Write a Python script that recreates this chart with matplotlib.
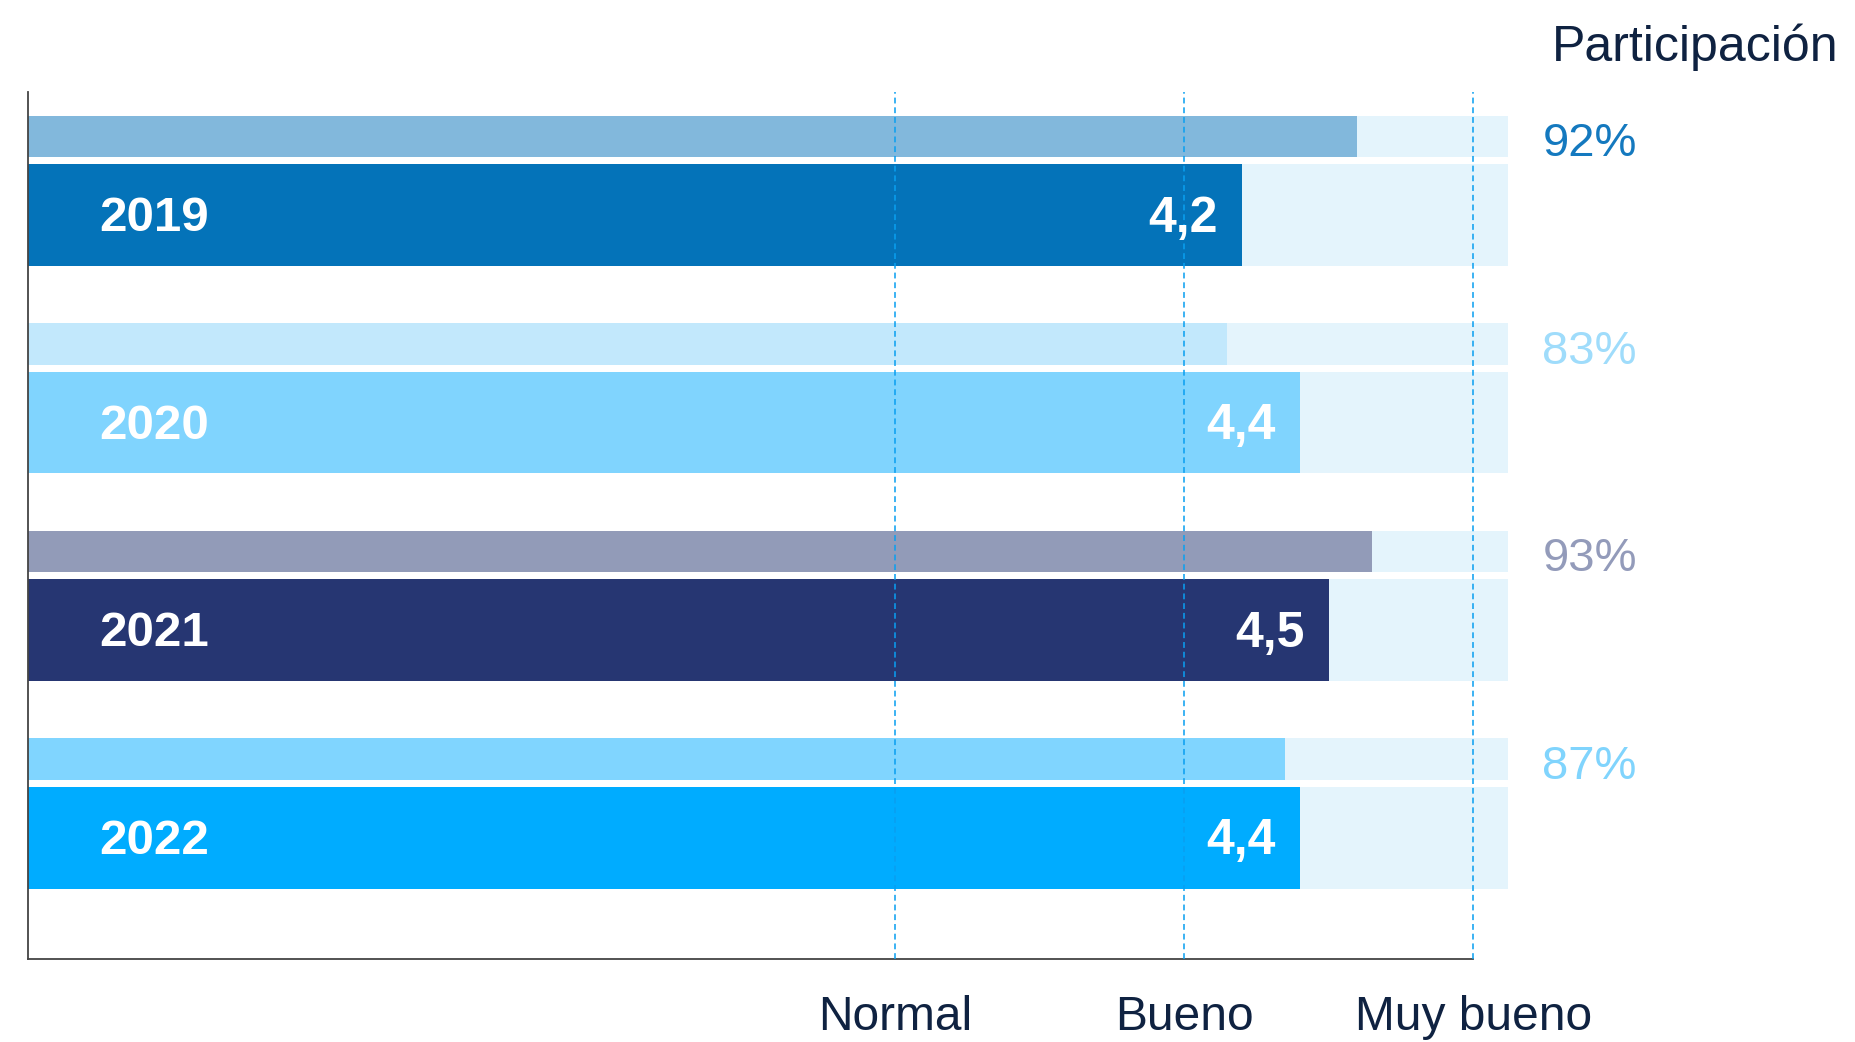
import numpy as np
import matplotlib
matplotlib.use('Agg')
import matplotlib.pyplot as plt

plt.rcParams['font.family'] = ['Liberation Sans', 'DejaVu Sans']

# data
years = ['2019', '2020', '2021', '2022']
scores = [4.2, 4.4, 4.5, 4.4]
participation = [92, 83, 93, 87]
levels = ['Normal', 'Bueno', 'Muy bueno']
level_pos = [3, 4, 5]

score_colors = ['#0473b9', '#80d4fe', '#263672', '#00acff']
part_colors = ['#82b8dc', '#c2e8fc', '#929bb8', '#80d5ff']
pct_colors = ['#1479bf', '#9fdcfb', '#939bba', '#80d4fd']
bg_color = '#e4f4fc'
navy = '#0f2241'

fig = plt.figure(figsize=(18.55, 10.42), dpi=100)
ax = fig.add_axes([0.0153, 0.0797, 0.7975, 0.832])

idx = np.arange(len(years))
score_y = idx
part_y = idx - 0.379
part_x = np.array(participation) / 100 * 5  # participation shown on the 0-5 scale

# light background rows
ax.barh(score_y, 5.12, height=0.49, color=bg_color, zorder=1)
ax.barh(part_y, 5.12, height=0.2, color=bg_color, zorder=1)

ax.barh(score_y, scores, height=0.49, color=score_colors, zorder=2)
ax.barh(part_y, part_x, height=0.2, color=part_colors, zorder=2)

for i in idx:
    ax.text(0.246, score_y[i] + 0.017, years[i], color='white', fontsize=35.5,
            fontweight='bold', ha='left', va='center', zorder=4)
    ax.annotate(f'{scores[i]:.1f}'.replace('.', ','), (scores[i], score_y[i] + 0.017),
                xytext=(-17.5, 0), textcoords='offset points', color='white',
                fontsize=36, fontweight='bold', ha='right', va='center', zorder=4)
    ax.text(5.24, part_y[i] + 0.037, f'{participation[i]}%', color=pct_colors[i],
            fontsize=34, ha='left', va='center', clip_on=False)

for x in level_pos:
    ax.axvline(x, color='#0a9ff0', lw=1.4, ls=(0, (3, 2)), alpha=0.8, zorder=3)

ax.set_xlim(0, 5.12)
ax.set_ylim(3.584, -0.593)
ax.set_xticks(level_pos)
ax.set_xticklabels(levels, fontsize=34.5, color=navy)
ax.tick_params(axis='x', length=0, pad=26)
ax.set_yticks([])

for s in ['top', 'right']:
    ax.spines[s].set_visible(False)
ax.spines['bottom'].set_bounds(0, 5)
for s in ['left', 'bottom']:
    ax.spines[s].set_color('#444444')
    ax.spines[s].set_linewidth(1.3)

fig.text(0.8367, 0.9545, 'Participación', fontsize=36, color=navy, ha='left', va='center')

fig.savefig('out.png', dpi=100)
